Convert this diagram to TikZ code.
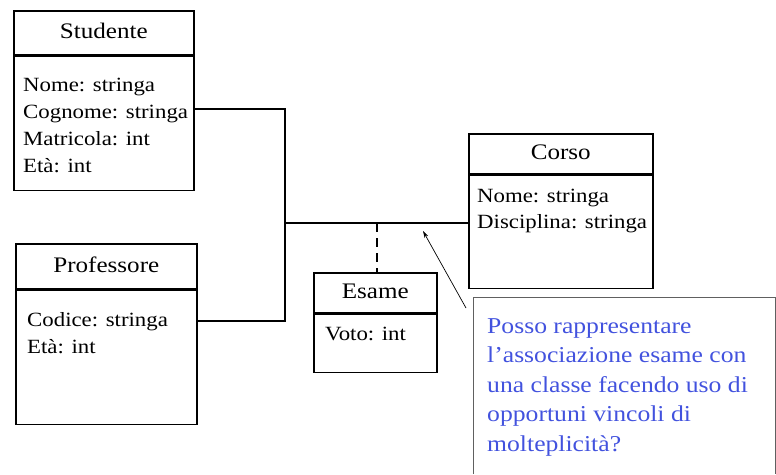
\documentclass[tikz,border=0pt]{standalone}
\usepackage{fontspec}
\setmainfont[FakeStretch=1.13]{Liberation Serif}
\usetikzlibrary{positioning, arrows.meta}
\definecolor{NoteBlue}{RGB}{66,82,222}
\definecolor{NoteGray}{RGB}{96,96,96}
\tikzset{
  classhead/.style={draw, line width=1.6pt, anchor=north west, inner sep=0pt, text depth=4pt, font=\fontsize{22.2}{26}\selectfont},
  classbody/.style={draw, line width=1.6pt, anchor=north west, inner sep=0pt},
  attrlist/.style={anchor=north west, inner sep=0pt, align=left, font=\fontsize{20.2}{27}\selectfont},
  assoc/.style={line width=1.6pt},
}
\begin{document}
\begin{tikzpicture}[x=1pt, y=-1pt]
  \useasboundingbox (0,0) rectangle (776,474);
  % classes
  \node[classhead, minimum width=180pt, minimum height=44pt] (studhead) at (13,10) {Studente};
  \node[classbody, minimum width=180pt, minimum height=134pt] (studbody) at (studhead.south west) {};
  \node[attrlist] (studattr) at (23,78) {Nome: stringa\\Cognome: stringa\\Matricola: int\\Età: int};
  \node[classhead, minimum width=181pt, minimum height=45pt] (profhead) at (15,243) {Professore};
  \node[classbody, minimum width=181pt, minimum height=134pt] (profbody) at (profhead.south west) {};
  \node[attrlist] (profattr) at (27,312) {Codice: stringa\\Età: int};
  \node[classhead, minimum width=184pt, minimum height=40pt] (corsohead) at (468,133) {Corso};
  \node[classbody, minimum width=184pt, minimum height=113pt] (corsobody) at (corsohead.south west) {};
  \node[attrlist, font=\fontsize{20.2}{25.5}\selectfont] (corsoattr) at (477,189) {Nome: stringa\\Disciplina: stringa};
  \node[classhead, minimum width=123pt, minimum height=40pt] (esamehead) at (313,272) {Esame};
  \node[classbody, minimum width=123pt, minimum height=58pt] (esamebody) at (esamehead.south west) {};
  \node[attrlist] (esameattr) at (325,327) {Voto: int};
  % association
  \coordinate (jtop) at (285,109);
  \coordinate (jmid) at (285,223);
  \coordinate (jbot) at (285,321);
  \coordinate (jdash) at (377,223);
  \draw[assoc] (studbody.east |- jtop) -- (jtop) -- (jbot) -- (profbody.east |- jbot);
  \draw[assoc] (jmid) -- (corsobody.west |- jmid);
  \draw[assoc, dash pattern=on 9pt off 6pt] (jdash) -- (jdash |- esamehead.north);
  % note
  \draw[NoteGray, line width=0.8pt] (473,474) |- (775,297) -- (775,474);
  \node[anchor=north west, inner sep=0pt, align=left, text=NoteBlue,
        font=\fontsize{22.7}{29.5}\selectfont] (note) at (487,318)
        {Posso rappresentare\\l’associazione esame con\\una classe facendo uso di\\opportuni vincoli di\\molteplicità?};
  \coordinate (notefoot) at (466,308);
  \coordinate (assoctip) at (423,231);
  \draw[-{Stealth[length=7pt,width=4pt]}, line width=0.7pt] (notefoot) -- (assoctip);
\end{tikzpicture}
\end{document}
